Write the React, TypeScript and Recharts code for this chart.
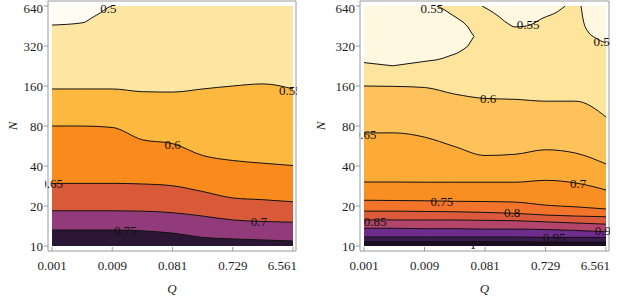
import React from 'react';
import { ComposedChart, Area, Line, XAxis, YAxis, ReferenceDot } from 'recharts';

// ---------- axis ticks ----------
const qTicks = [0.001, 0.009, 0.081, 0.729, 6.561];
const qTickLabels = ['0.001', '0.009', '0.081', '0.729', '6.561'];
const nTicks = [10, 20, 40, 80, 160, 320, 640];
const nTickLabels = ['10', '20', '40', '80', '160', '320', '640'];

// sample positions along Q for contour lines
const qSamples = [0.001, 0.003, 0.009, 0.027, 0.081, 0.243, 0.729, 2.187, 6.561];

// ---------- left panel contours (N at each Q sample) ----------
const leftC055 = [152, 152, 152, 145, 144, 152, 160, 166, 152];
const leftC060 = [80, 80, 78, 63, 59, 48, 44, 42, 40.3];
const leftC065 = [29.6, 29.6, 29.6, 29.3, 28.4, 25.7, 23.0, 22.3, 21.5];
const leftC070 = [18.4, 18.4, 18.4, 18.3, 17.8, 16.8, 15.7, 15.3, 15.1];
const leftC075 = [13.2, 13.2, 13.2, 13.0, 12.5, 11.6, 11.3, 11.1, 10.9];
// 0.5 contour in the upper-left corner: [Q, N]
const leftC050 = [[0.001, 460], [0.00308, 479], [0.00449, 529], [0.0058, 567], [0.00749, 618], [0.00868, 640]];

// ---------- right panel contours ----------
const rightC060 = [160, 159, 156, 139, 129, 127, 123, 123, 93.5];
const rightC065 = [71, 71, 66, 56, 48, 49, 53, 50, 41.4];
const rightC070 = [30.3, 30.3, 30.2, 30.2, 30.2, 30.2, 31.2, 29.8, 26.4];
const rightC075 = [22.1, 22.0, 21.9, 21.7, 21.6, 21.4, 20.3, 19.7, 19.0];
const rightC080 = [18.3, 18.3, 18.2, 18.1, 17.9, 17.6, 17.1, 16.8, 16.6];
const rightC085 = [15.7, 15.7, 15.7, 15.7, 15.6, 15.5, 15.2, 14.9, 14.6];
const rightC090 = [13.6, 13.6, 13.5, 13.5, 13.4, 13.4, 13.3, 13.1, 12.8];
const rightC095 = [11.7, 11.7, 11.7, 11.7, 11.7, 11.7, 11.6, 11.6, 11.6];
const rightC100 = [10.8, 10.8, 10.8, 10.8, 10.8, 10.8, 10.7, 10.7, 10.7];
// 0.55 islands: [Q, lowN, highN]
const rightIslandA = [
  [0.001, 240, 640], [0.00284, 227, 640], [0.00845, 244, 640], [0.0141, 252, 640],
  [0.0176, 259, 608], [0.0292, 282, 520], [0.0364, 300, 485], [0.0436, 320, 445],
  [0.0498, 355, 401], [0.0544, 378, 378],
];
const rightIslandB = [
  [0.0726, 640, 640], [0.125, 547, 640], [0.18, 477, 640], [0.241, 445, 640],
  [0.373, 453, 640], [0.667, 520, 640], [1.11, 577, 640], [1.49, 640, 640],
];
const rightIslandC = [[2.65, 640, 640], [2.87, 502, 640], [3.44, 408, 640], [4.49, 368, 640], [6.561, 337, 640]];

// ---------- contour labels: [Q, N, text, clip] ----------
const leftLabels: [number, number, string, number][] = [
  [0.00778, 618, '0.5', 0], [5.98, 149, '0.55', 0], [0.081, 58.6, '0.6', 0],
  [0.000982, 29.5, '0.65', 5], [1.89, 15.2, '0.7', 0], [0.0145, 13.0, '0.75', 0],
];
const rightLabels: [number, number, string, number][] = [
  [0.0118, 618, '0.55', 0], [0.388, 468, '0.55', 0], [6.28, 349, '0.55', 0],
  [0.0904, 128, '0.6', 0], [0.00104, 69.0, '0.65', 6], [2.39, 29.8, '0.7', 0],
  [0.0169, 21.8, '0.75', 0], [0.216, 17.9, '0.8', 0], [0.0015, 15.4, '0.85', 0],
  [5.84, 13.1, '0.9', 0], [0.998, 11.6, '0.95', 0], [0.0523, 10.2, '1', 0],
];

// ---------- helpers ----------
const qMinor: number[] = [];
for (let i = 0; i < qTicks.length - 1; i++) {
  for (let k = 0; k < 6; k++) qMinor.push(qTicks[i] * Math.pow(qTicks[i + 1] / qTicks[i], k / 6));
}
qMinor.push(qTicks[qTicks.length - 1]);
const nMinor: number[] = [];
for (let i = 0; i < nTicks.length - 1; i++) {
  for (let k = 0; k < 4; k++) nMinor.push(nTicks[i] * Math.pow(nTicks[i + 1] / nTicks[i], k / 4));
}
nMinor.push(nTicks[nTicks.length - 1]);

const fmtQ = (v: number) => {
  const i = qTicks.findIndex((t) => Math.abs(t - v) < 1e-9);
  return i >= 0 ? qTickLabels[i] : '';
};
const fmtN = (v: number) => {
  const i = nTicks.findIndex((t) => Math.abs(t - v) < 1e-9);
  return i >= 0 ? nTickLabels[i] : '';
};

const bandData = (vals: number[]) => qSamples.map((q, i) => ({ q, r: [10, vals[i]] }));
const lineData = (vals: number[]) => qSamples.map((q, i) => ({ q, n: vals[i] }));
const islandArea = (pts: number[][]) => pts.map(([q, lo, hi]) => ({ q, r: [lo, hi] }));
const pairsLine = (pts: number[][]) => pts.map(([q, n]) => ({ q, n }));

const FRAME = '#9a9a9a';
const TEXT = '#1e1e1e';
const FONT = "'Liberation Serif', 'Times New Roman', serif";

type Contour = { vals: number[]; fill: string };
type Island = { area: { q: number; r: number[] }[]; line: { q: number; n: number }[]; fill: string; curve: 'linear' | 'monotone' };

function Panel(props: {
  width: number;
  leftW: number;
  nOffset: number;
  topFill: string;
  contours: Contour[];
  islands: Island[];
  labels: [number, number, string, number][];
}) {
  const { width, leftW, nOffset, topFill, contours, islands, labels } = props;
  const full = bandData(qSamples.map(() => 640));
  const common = { xAxisId: 'b', yAxisId: 'l', isAnimationActive: false } as const;
  return (
    <ComposedChart width={width} height={297} margin={{ top: 0, right: 0, bottom: 0, left: 0 }}>
      <XAxis
        xAxisId="b"
        dataKey="q"
        type="number"
        scale="log"
        domain={[0.001, 6.561]}
        allowDataOverflow
        ticks={qTicks}
        tickFormatter={fmtQ}
        padding={{ left: 4, right: 3 }}
        height={46}
        stroke={FRAME}
        tickSize={-4}
        tickMargin={14}
        tick={{ fill: TEXT, fontSize: 13 }}
        label={{ value: 'Q', position: 'insideBottom', offset: 4, style: { fontStyle: 'italic', fontSize: 13, fill: TEXT } }}
      />
      <XAxis
        xAxisId="t"
        orientation="top"
        dataKey="q"
        type="number"
        scale="log"
        domain={[0.001, 6.561]}
        allowDataOverflow
        ticks={qMinor}
        tick={false}
        padding={{ left: 4, right: 3 }}
        height={1}
        stroke={FRAME}
        tickSize={-3}
      />
      <YAxis
        yAxisId="l"
        type="number"
        scale="log"
        domain={[10, 640]}
        allowDataOverflow
        ticks={nTicks}
        tickFormatter={fmtN}
        padding={{ top: 5, bottom: 5 }}
        width={leftW}
        stroke={FRAME}
        tickSize={4}
        tickMargin={1}
        tick={{ fill: TEXT, fontSize: 13 }}
        label={{
          value: 'N',
          angle: -90,
          position: 'insideLeft',
          offset: nOffset,
          style: { textAnchor: 'middle', fontStyle: 'italic', fontSize: 13, fill: TEXT },
        }}
      />
      <YAxis
        yAxisId="r"
        orientation="right"
        type="number"
        scale="log"
        domain={[10, 640]}
        allowDataOverflow
        ticks={nMinor}
        tick={false}
        padding={{ top: 5, bottom: 5 }}
        width={1}
        stroke={FRAME}
        tickSize={-3}
      />

      <Area {...common} data={full} dataKey="r" type="linear" stroke="none" fill={topFill} fillOpacity={1} dot={false} activeDot={false} />
      {islands.map((isl, i) => (
        <Area key={'ia' + i} {...common} data={isl.area} dataKey="r" type={isl.curve} stroke="none" fill={isl.fill} fillOpacity={1} dot={false} activeDot={false} />
      ))}
      {contours.map((c, i) => (
        <Area key={'ca' + i} {...common} data={bandData(c.vals)} dataKey="r" type="monotone" stroke="none" fill={c.fill} fillOpacity={1} dot={false} activeDot={false} />
      ))}
      {islands.map((isl, i) => (
        <Line key={'il' + i} {...common} data={isl.line} dataKey="n" type={isl.curve} stroke="#111" strokeWidth={1} dot={false} activeDot={false} />
      ))}
      {contours.map((c, i) => (
        <Line key={'cl' + i} {...common} data={lineData(c.vals)} dataKey="n" type="monotone" stroke="#111" strokeWidth={1} dot={false} activeDot={false} />
      ))}
      {labels.map(([q, n, t, clip], i) => (
        <ReferenceDot
          key={'lb' + i}
          xAxisId="b"
          yAxisId="l"
          x={q}
          y={n}
          r={0}
          fill="none"
          stroke="none"
          ifOverflow="visible"
          label={{
            value: t,
            position: 'center',
            fill: '#111',
            fontSize: 13,
            style: clip ? { clipPath: `inset(0 0 0 ${clip}px)` } : undefined,
          }}
        />
      ))}
    </ComposedChart>
  );
}

export default function App() {
  return (
    <div style={{ position: 'absolute', left: 0, top: 0, width: 620, height: 297, background: '#fff', fontFamily: FONT }}>
      <div style={{ position: 'absolute', left: 0, top: 0 }}>
        <Panel
          width={297}
          leftW={48}
          nOffset={12}
          topFill="#fde6a2"
          islands={[{ area: islandArea(leftC050.map(([q, n]) => [q, n, 640])), line: pairsLine(leftC050), fill: '#fffdf3', curve: 'monotone' }]}
          contours={[
            { vals: leftC055, fill: '#fdb840' },
            { vals: leftC060, fill: '#f98b1d' },
            { vals: leftC065, fill: '#d95a39' },
            { vals: leftC070, fill: '#913b7b' },
            { vals: leftC075, fill: '#2b1636' },
          ]}
          labels={leftLabels}
        />
      </div>
      <div style={{ position: 'absolute', left: 310, top: 0 }}>
        <Panel
          width={300}
          leftW={50}
          nOffset={10}
          topFill="#fee49c"
          islands={[
            {
              area: islandArea(rightIslandA),
              line: pairsLine([
                ...rightIslandA.map(([q, lo]) => [q, lo]),
                ...rightIslandA.slice(3, 9).reverse().map(([q, , hi]) => [q, hi]),
              ]),
              fill: '#fff8e1',
              curve: 'linear',
            },
            { area: islandArea(rightIslandB), line: pairsLine(rightIslandB.map(([q, lo]) => [q, lo])), fill: '#fff8e1', curve: 'monotone' },
            { area: islandArea(rightIslandC), line: pairsLine(rightIslandC.map(([q, lo]) => [q, lo])), fill: '#fff8e1', curve: 'monotone' },
          ]}
          contours={[
            { vals: rightC060, fill: '#fdc25a' },
            { vals: rightC065, fill: '#fcaa38' },
            { vals: rightC070, fill: '#f98e22' },
            { vals: rightC075, fill: '#f2742a' },
            { vals: rightC080, fill: '#dc5a3c' },
            { vals: rightC085, fill: '#b3456a' },
            { vals: rightC090, fill: '#6e2c8c' },
            { vals: rightC095, fill: '#3b1b4e' },
            { vals: rightC100, fill: '#1c0c22' },
          ]}
          labels={rightLabels}
        />
      </div>
    </div>
  );
}
